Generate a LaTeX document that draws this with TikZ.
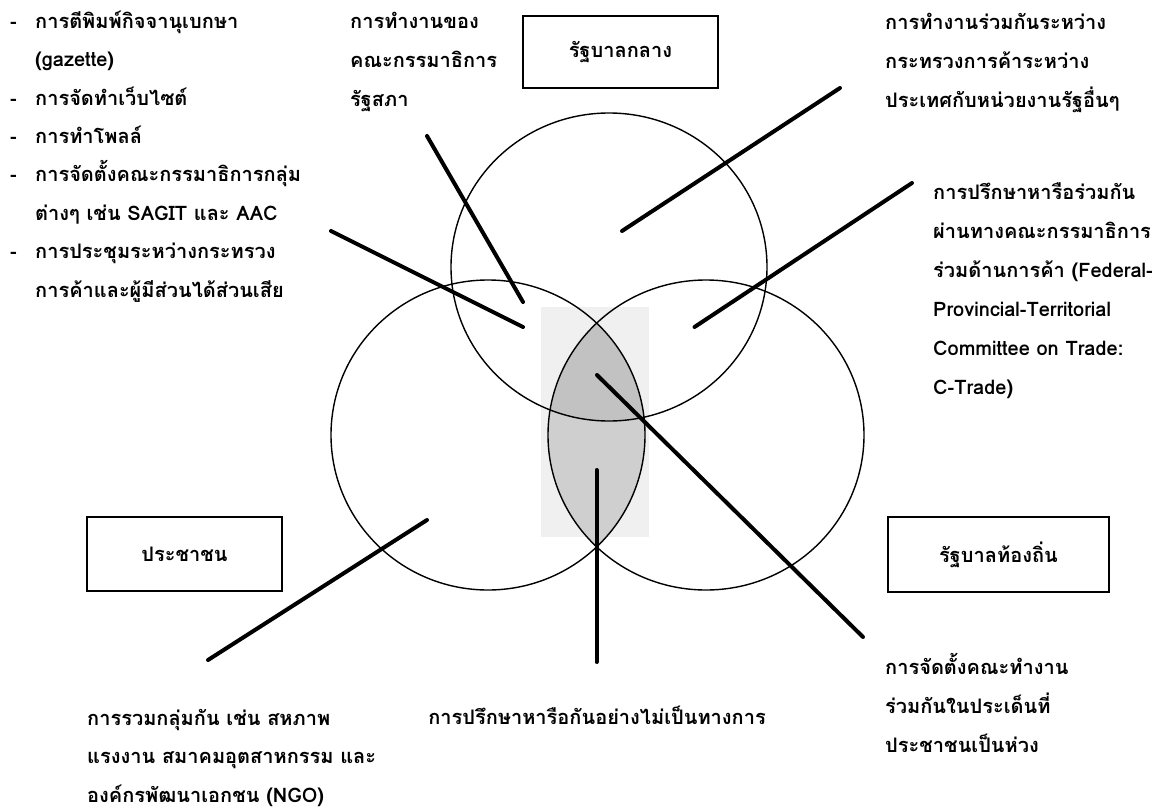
\documentclass[tikz,border=0pt]{standalone}
\usepackage{fontspec}
\newfontfamily\thaifont[Script=Thai]{Loma}
\newcommand\myst{\rule{0pt}{22pt}}
\begin{document}
\begin{tikzpicture}[x=1pt,y=-1pt,
  txt/.style={anchor=north west, align=left, inner sep=0pt, font=\thaifont\bfseries\fontsize{20}{39}\selectfont},
  lst/.style={anchor=north west, align=left, inner sep=0pt, font=\thaifont\bfseries\fontsize{20}{38.4}\selectfont},
  lead/.style={line width=4pt, line cap=round},
  ring/.style={line width=1.4pt},
  tag/.style={draw, line width=1.8pt, inner sep=0pt, font=\thaifont\bfseries\fontsize{20}{24}\selectfont}]
\useasboundingbox (0,0) rectangle (1171,809);
\fill[white] (0,0) rectangle (1171,809);
% shaded centre
\fill[gray!12] (541,307) rectangle (649,537);
\begin{scope}
  \clip (488,435) ellipse [x radius=157, y radius=155];
  \fill[gray!38] (706,435) ellipse [x radius=158, y radius=155];
  \clip (609,267) ellipse [x radius=158, y radius=154];
  \fill[gray!48] (706,435) ellipse [x radius=158, y radius=155];
\end{scope}
% circles
\draw[ring] (609,267) ellipse [x radius=158, y radius=154];
\draw[ring] (488,435) ellipse [x radius=157, y radius=155];
\draw[ring] (706,435) ellipse [x radius=158, y radius=155];
% boxes
\node[tag, minimum width=195pt, minimum height=72pt] (central) at (620.5,52) {รัฐบาลกลาง};
\node[tag, minimum width=195pt, minimum height=74pt] (people) at (184.5,554) {ประชาชน};
\node[tag, minimum width=221pt, minimum height=75pt] (local) at (998.5,554.5) {รัฐบาลท้องถิ่น};
% texts
\node[lst] (list) at (10,6) {\myst\makebox[25pt][l]{-}การตีพิมพ์กิจจานุเบกษา\\
  \hspace*{25pt}(gazette)\\
  \makebox[25pt][l]{-}การจัดทำเว็บไซต์\\
  \makebox[25pt][l]{-}การทำโพลล์\\
  \makebox[25pt][l]{-}การจัดตั้งคณะกรรมาธิการกลุ่ม\\
  \hspace*{25pt}ต่างๆ เช่น SAGIT และ AAC\\
  \makebox[25pt][l]{-}การประชุมระหว่างกระทรวง\\
  \hspace*{25pt}การค้าและผู้มีส่วนได้ส่วนเสีย};
\node[txt] (parl) at (350,6) {\myst การทำงานของ\\คณะกรรมาธิการ\\รัฐสภา};
\node[txt] (coop) at (885,7) {\myst การทำงานร่วมกันระหว่าง\\กระทรวงการค้าระหว่าง\\ประเทศกับหน่วยงานรัฐอื่นๆ};
\node[txt] (ctrade) at (933,177) {\myst การปรึกษาหารือร่วมกัน\\ผ่านทางคณะกรรมาธิการ\\ร่วมด้านการค้า (Federal-\\Provincial-Territorial\\Committee on Trade:\\C-Trade)};
\node[lst] (groups) at (87,703) {\myst การรวมกลุ่มกัน เช่น สหภาพ\\แรงงาน สมาคมอุตสาหกรรม และ\\องค์กรพัฒนาเอกชน (NGO)};
\node[txt, anchor=north] (informal) at (597,702) {\myst การปรึกษาหารือกันอย่างไม่เป็นทางการ};
\node[txt] (working) at (885,652) {\myst การจัดตั้งคณะทำงาน\\ร่วมกันในประเด็นที่\\ประชาชนเป็นห่วง};
% leader lines
\coordinate (p1a) at (427,136); \coordinate (p1b) at (523,302);
\coordinate (p2a) at (331,231); \coordinate (p2b) at (523,327);
\coordinate (p3a) at (840,88);  \coordinate (p3b) at (622,231);
\coordinate (p4a) at (912,183); \coordinate (p4b) at (694.5,327);
\coordinate (p5a) at (863,637); \coordinate (p5b) at (597,375);
\coordinate (p6a) at (596.5,662); \coordinate (p6b) at (596.5,470);
\coordinate (p7a) at (208,660); \coordinate (p7b) at (427,520);
\draw[lead] (p1a) -- (p1b);
\draw[lead] (p2a) -- (p2b);
\draw[lead] (p3a) -- (p3b);
\draw[lead] (p4a) -- (p4b);
\draw[lead] (p5a) -- (p5b);
\draw[lead] (p6a) -- (p6b);
\draw[lead] (p7a) -- (p7b);
\end{tikzpicture}
\end{document}
